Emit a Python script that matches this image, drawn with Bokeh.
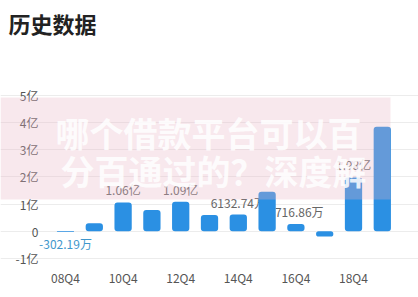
from bokeh.plotting import figure
from bokeh.models import FixedTicker, Label, BoxAnnotation, ColumnDataSource, Range1d
from bokeh.embed import file_html
from bokeh.resources import INLINE

quarters = ["08Q4", "09Q4", "10Q4", "11Q4", "12Q4", "13Q4",
            "14Q4", "15Q4", "16Q4", "17Q4", "18Q4", "19Q4"]
values = [-0.0302, 0.30, 1.06, 0.78, 1.09, 0.60,
          0.6133, 1.45, 0.2717, -0.19, 1.98, 3.84]  # 亿
value_labels = ["-302.19万", "", "1.06亿", "", "1.09亿", "",
                "6132.74万", "", "2716.86万", "", "1.98亿", ""]
y_ticks = [-1, 0, 1, 2, 3, 4, 5]
y_tick_labels = ["-1亿", "0", "1亿", "2亿", "3亿", "4亿", "5亿"]
x_tick_idx = [0, 2, 4, 6, 8, 10]
title_text = "历史数据"
watermark = ["哪个借款平台可以百", "分百通过的？深度解"]

FONT = "Noto Sans CJK SC"
idx = list(range(len(quarters)))

XPX = 28.8          # pixels per quarter slot
X0 = -65 / XPX      # left edge of canvas in data units
YPX = 27.2          # pixels per 亿
Y0 = -1 - 39 / YPX  # bottom edge of canvas in data units
GRID_L, GRID_R = -0.35, 11.35

p = figure(width=418, height=297, output_backend="svg", toolbar_location=None,
           x_range=Range1d(X0, X0 + 418 / XPX),
           y_range=Range1d(Y0, Y0 + 297 / YPX),
           min_border=0)
p.outline_line_color = None
p.background_fill_color = "white"
p.border_fill_color = "white"
p.xgrid.visible = False
p.ygrid.grid_line_color = "#ececec"
p.ygrid.grid_line_width = 1
p.ygrid.bounds = (GRID_L, GRID_R)

p.yaxis.ticker = FixedTicker(ticks=y_ticks)
p.yaxis.major_label_overrides = {t: l for t, l in zip(y_ticks, y_tick_labels)}
p.yaxis.fixed_location = GRID_L
p.yaxis.bounds = (-1, 5)
p.xaxis.ticker = FixedTicker(ticks=x_tick_idx)
p.xaxis.major_label_overrides = {i: quarters[i] for i in x_tick_idx}
p.xaxis.fixed_location = -1
for ax in (p.xaxis, p.yaxis):
    ax.axis_line_color = None
    ax.major_tick_line_color = None
    ax.minor_tick_line_color = None
    ax.major_tick_out = 0
    ax.major_tick_in = 0
    ax.minor_tick_out = 0
    ax.major_label_text_font = FONT
    ax.major_label_text_font_size = "12px"
    ax.major_label_text_color = "#555555"
p.yaxis.major_label_standoff = 17
p.xaxis.major_label_standoff = 10

# value labels (drawn under the bars)
pos_x = [i for i in idx if value_labels[i] and values[i] >= 0]
neg_x = [i for i in idx if value_labels[i] and values[i] < 0]
pos_src = ColumnDataSource(dict(x=pos_x, y=[values[i] for i in pos_x],
                                t=[value_labels[i] for i in pos_x]))
neg_src = ColumnDataSource(dict(x=neg_x, y=[values[i] for i in neg_x],
                                t=[value_labels[i] for i in neg_x]))
p.text(x="x", y="y", text="t", source=pos_src, text_align="center",
       text_baseline="bottom", y_offset=-4, text_font_size="12px",
       text_color="#666666", text_font={"value": FONT})
p.text(x="x", y="y", text="t", source=neg_src, text_align="center",
       text_baseline="top", y_offset=3, text_font_size="12px",
       text_color="#3f97cc", text_font={"value": FONT})

bar_src = ColumnDataSource(dict(x=idx, top=values))
p.vbar(x="x", top="top", bottom=0, width=0.6, source=bar_src,
       fill_color="#2b90e3", line_color=None, border_radius=3)

# title
p.add_layout(Label(x=8, y=291, x_units="screen", y_units="screen",
                   text=title_text, text_font=FONT, text_font_size="22px",
                   text_font_style="bold", text_color="#222222",
                   text_baseline="top"))

# watermark overlay
p.add_layout(BoxAnnotation(left=0, right=390, bottom=98, top=200,
                           left_units="screen", right_units="screen",
                           bottom_units="screen", top_units="screen",
                           fill_color="#e8b4c4", fill_alpha=0.3, line_color=None))
p.add_layout(Label(x=55, y=165, x_units="screen", y_units="screen",
                   text=watermark[0], text_font=FONT, text_font_size="34px",
                   text_font_style="bold", text_color="white", text_alpha=0.85,
                   text_baseline="middle"))
p.add_layout(Label(x=60, y=127, x_units="screen", y_units="screen",
                   text=watermark[1], text_font=FONT, text_font_size="34px",
                   text_font_style="bold", text_color="white", text_alpha=0.85,
                   text_baseline="middle"))

open("out.html", "w").write(file_html(p, INLINE))
